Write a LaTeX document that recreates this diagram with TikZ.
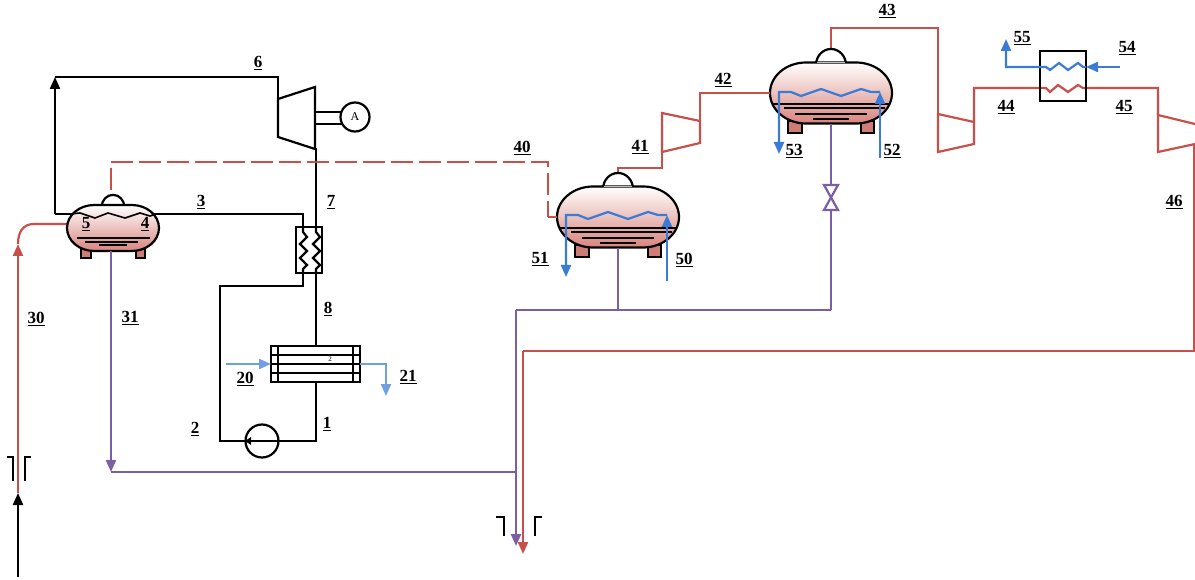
\documentclass[tikz,border=0pt]{standalone}
\usepackage{fontspec}
\setmainfont{Liberation Serif}
\usetikzlibrary{arrows.meta,calc}
\definecolor{rd}{HTML}{C8504A}
\definecolor{pu}{HTML}{7B5FA5}
\definecolor{bl}{HTML}{3A7BD5}
\definecolor{lb}{HTML}{6F9FE0}
\definecolor{sal}{HTML}{D8847C}
\tikzset{
  lbl/.style={font=\fontsize{17}{17}\selectfont\bfseries,inner sep=0pt,text=black},
  blk/.style={draw=black,line width=2.2pt},
  redl/.style={draw=rd,line width=2.2pt},
  purl/.style={draw=pu,line width=2.2pt},
  blul/.style={draw=bl,line width=2.2pt},
  lbll/.style={draw=lb,line width=2.2pt},
  tip/.style={-{Triangle[length=12pt,width=10pt]}},
  tanklegs/.style={draw=black,line width=2pt,fill=sal!95!black},
  tankbody/.style={draw=black,line width=2.2pt,top color=white,bottom color=sal},
  tankline/.style={draw=black,line width=2pt},
}
% name, cx, cy, scale
\newcommand{\tankshape}[4]{%
  \begin{scope}[shift={(#2,#3)},x=#4pt,y=-#4pt]
    \draw[blk,fill=white] (-15,-28) arc[start angle=180,end angle=360,x radius=15,y radius=16];
    \draw[tanklegs] (-43,28) rectangle (-29,40);
    \draw[tanklegs] (30,28) rectangle (43,40);
    \draw[tankbody] (-61,0) arc[start angle=180,end angle=270,x radius=36,y radius=30.5]
      -- (25,-30.5) arc[start angle=270,end angle=360,x radius=36,y radius=30.5]
      arc[start angle=0,end angle=90,x radius=36,y radius=30.5]
      -- (-25,30.5) arc[start angle=90,end angle=180,x radius=36,y radius=30.5] -- cycle;
  \end{scope}
  \node[minimum width=#4*122pt,minimum height=#4*61pt,inner sep=0pt] (#1) at (#2,#3) {};
}
\newcommand{\tanklines}[2]{%
  \begin{scope}[shift={(#1,#2)}]
    \draw[tankline] (-59,11) -- (59,11);
    \draw[tankline] (-47,15) -- (54,15);
    \draw[tankline] (-36,21) -- (36,21);
    \draw[tankline] (-18,26) -- (18,26);
    \draw[draw=black!25,line width=1.2pt] (-14,-30.5) -- (14,-30.5);
  \end{scope}
}
\newcommand{\lab}[3]{\node[lbl] at (#1,#2+1) {\underline{#3}};}
\begin{document}
\begin{tikzpicture}[x=1pt,y=-1pt]
\useasboundingbox (0,0) rectangle (1195,580);

% ---- free points
\coordinate (a0) at (80,214);
\coordinate (a1) at (55,214);
\coordinate (a2) at (55,77);
\coordinate (a3) at (278,77);
\coordinate (tin1) at (278,99);
\coordinate (tin2) at (278,137);
\coordinate (tout1) at (315,87);
\coordinate (tout2) at (315,149);
\coordinate (b1) at (145,214);
\coordinate (b2) at (303,214);
\coordinate (b3) at (303,227);
\coordinate (b4) at (303,273);
\coordinate (b5) at (303,286);
\coordinate (b6) at (220,286);
\coordinate (b7) at (220,441);
\coordinate (c1) at (316,227);
\coordinate (c2) at (316,273);
\coordinate (c3) at (316,346);
\coordinate (c4) at (316,382);
\coordinate (c5) at (316,441);

% ---- main cycle
\draw[blk] (a0) -- (a1);
\draw[blk,tip] (a1) -- (a2);
\draw[blk] (a2) -- (a3) -- (tin1);
\draw[blk] (tin1) -- (tout1) -- (tout2) -- (tin2) -- cycle;
\draw[blk] (tout2) -- (316,149) -- (c1);
\draw[blk] (b1) -- (b2) -- (b3);
\draw[blk] (b4) -- (b5) -- (b6) -- (b7) -- (245,441);
\draw[blk] (c2) -- (c3);
\draw[blk] (c4) -- (c5) -- (278,441);

% generator
\node[circle,draw=black,line width=2.2pt,minimum size=29pt,inner sep=0pt,font=\fontsize{12}{12}\selectfont] (gen) at (355,117) {A};
\draw[blk] (315,112) -- (342,112);
\draw[blk] (315,124) -- (343,124);

% recuperator
\draw[blk] (296,227) rectangle (322,273);
\foreach \xx in {303,316}{
  \draw[blk] (\xx,227) -- (\xx,232) -- (\xx+4,237) -- (\xx-3,244) -- (\xx+4,251) -- (\xx-3,258) -- (\xx+4,265) -- (\xx,269) -- (\xx,273);
}

% condenser
\draw[blk] (271,346) rectangle (360,382);
\draw[blk] (278,346) -- (278,382);
\draw[blk] (353,346) -- (353,382);
\draw[blk] (271,355) -- (360,355);
\draw[blk] (271,364) -- (360,364);
\draw[blk] (271,373) -- (360,373);
\node[font=\fontsize{7}{7}\selectfont\bfseries,inner sep=0pt,text=black!70] at (330,359) {2};
\coordinate (w1) at (226,364);
\coordinate (w2) at (271,364);
\coordinate (w3) at (360,364);
\coordinate (w4) at (386,364);
\coordinate (w5) at (386,396);
\draw[lbll,tip] (w1) -- (w2);
\draw[lbll,tip] (w3) -- (w4) -- (w5);

% pump
\node[circle,draw=black,line width=2.2pt,minimum size=33pt,inner sep=0pt] (pump) at (262,441) {};
\draw[blk] (pump.east) -- (pump.west);
\fill[black] (245,441) -- (251,437) -- (251,445) -- cycle;

% ---- source / sink
\coordinate (s1) at (18,577);
\coordinate (s2) at (18,493);
\coordinate (s4) at (67,224);
\draw[blk,tip] (s1) -- (s2);
\draw[redl] (s2) -- (18,250);
\draw[redl,tip] (18,256) -- (18,244);
\draw[redl] (18,244) .. controls (18,232) and (23,224) .. (34,224) -- (s4);
\draw[blk] (7,457) -- (13,457) -- (13,481);
\draw[blk] (31,457) -- (25,457) -- (25,481);
\draw[blk] (496,517) -- (504,517) -- (504,536);
\draw[blk] (542,517) -- (535,517) -- (535,536);

% ---- dashed 40
\coordinate (d1) at (111,190);
\coordinate (d2) at (111,162);
\coordinate (d3) at (548,162);
\coordinate (d4) at (548,217);
\draw[redl,dash pattern=on 22pt off 6pt] (d1) -- (d2) -- (d3) -- (d4);

% ---- red process line
\coordinate (r1) at (1194,144);
\coordinate (r2) at (1194,351);
\coordinate (r3) at (523,351);
\coordinate (r4) at (523,554);
\draw[redl] (r1) -- (r2) -- (r3);
\draw[redl,tip] (r3) -- (r4);

% compressors
\draw[redl] (662,113) -- (700,121) -- (700,143) -- (662,152) -- cycle;
\draw[redl] (938,114) -- (974,122) -- (974,144) -- (938,152) -- cycle;
\draw[redl] (1195,124) -- (1158,115) -- (1158,152) -- (1195,144);

\draw[redl] (618,175) -- (618,168) -- (662,168) -- (662,152);
\draw[redl] (831,52) -- (831,28) -- (938,28) -- (938,114);
\draw[redl] (974,122) -- (974,88) -- (1046,88) -- (1050,92) -- (1058,85) -- (1068,92) -- (1078,85) -- (1083,88) -- (1158,88) -- (1158,115);

% intercooler
\draw[blk] (1040,51) rectangle (1086,101);
\coordinate (i1) at (1120,67);
\coordinate (i2) at (1086,67);
\coordinate (i3) at (1006,67);
\coordinate (i4) at (1006,39);
\draw[blul,tip] (i1) -- (i2);
\draw[blul,tip] (i2) -- (1083,67) -- (1078,63) -- (1068,70) -- (1059,63) -- (1050,70) -- (1046,67) -- (i3) -- (i4);

% ---- tanks
\tankshape{t1}{113}{228}{0.754}
\tankshape{t2}{618}{217}{1}
\tankshape{t3}{831}{93}{1}

% ---- connectors on tanks
\draw[redl] (d4) -- (t2.west |- d4);
\draw[redl] (700,121) -- (700,93) -- (t3.west);

% ---- purple lines
\coordinate (p2) at (111,472);
\coordinate (p3) at (516,472);
\coordinate (p4) at (516,310);
\coordinate (p5) at (516,546);
\coordinate (p7) at (618,310);
\coordinate (p9) at (831,310);
\draw[purl,tip] (t1.south -| p2) -- (p2);
\draw[purl] (p2) -- (p3);
\draw[purl,tip] (p4) -- (p5);
\draw[purl] (p4) -- (p9);
\draw[purl] (t2.south) -- (p7);
\draw[purl] (t3.south) -- (831,185);
\draw[purl] (831,210) -- (p9);
\draw[purl,fill=white] (824,185) -- (838,185) -- (824,210) -- (838,210) -- cycle;

% tank 1 internals
\draw[tankline,line width=1.8pt] (77,238) -- (150,238);
\draw[tankline,line width=1.8pt] (85,242) -- (138,242);
\draw[tankline,line width=1.8pt] (99,245) -- (127,245);
\draw[tankline,line width=1.6pt] (70,214) -- (80,213) -- (95,218) -- (108,213) -- (125,218) -- (140,213) -- (150,216) -- (156,214);

\tanklines{618}{217}
\tanklines{831}{93}

% tank 2 coil
\coordinate (u1) at (667,281);
\coordinate (u2) at (667,215);
\coordinate (u3) at (566,215);
\coordinate (u4) at (566,277);
\draw[blul,tip] (u1) -- (u2);
\draw[blul,tip] (u2) -- (658,215) -- (648,212) -- (628,219) -- (608,212) -- (588,219) -- (578,215) -- (u3) -- (u4);
% tank 3 coil
\coordinate (v1) at (880,158);
\coordinate (v2) at (880,92);
\coordinate (v3) at (779,92);
\coordinate (v4) at (779,154);
\draw[blul,tip] (v1) -- (v2);
\draw[blul,tip] (v2) -- (871,92) -- (861,89) -- (841,96) -- (821,89) -- (801,96) -- (791,92) -- (v3) -- (v4);

% ---- labels
\lab{258}{62}{6}\lab{201}{201}{3}\lab{331}{201}{7}\lab{328}{308}{8}\lab{327}{423}{1}
\lab{195}{428}{2}\lab{245}{378}{20}\lab{408}{376}{21}\lab{36}{318}{30}\lab{130}{317}{31}
\lab{86}{223}{5}\lab{145}{223}{4}\lab{522}{147}{40}\lab{640}{146}{41}\lab{723}{79}{42}
\lab{887}{10}{43}\lab{1006}{106}{44}\lab{1124}{106}{45}\lab{1174}{201}{46}\lab{684}{259}{50}
\lab{540}{258}{51}\lab{892}{150}{52}\lab{794}{150}{53}\lab{1127}{47}{54}\lab{1022}{37}{55}
\end{tikzpicture}
\end{document}
